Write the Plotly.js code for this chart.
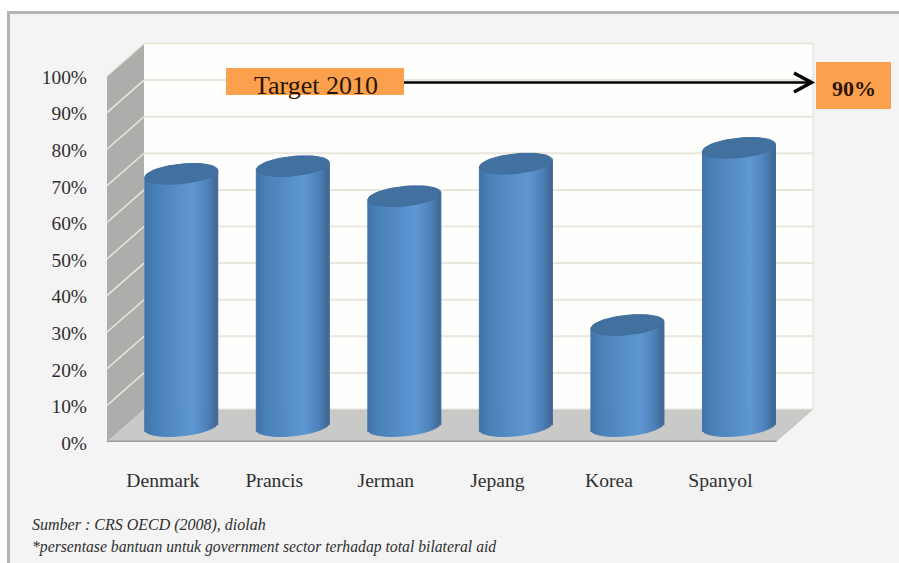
<!DOCTYPE html>
<html>
<head>
<meta charset="utf-8">
<script src="https://cdn.plot.ly/plotly-3.0.1.min.js"></script>
<style>html,body{margin:0;padding:0;background:#fff;overflow:hidden}#chart{width:899px;height:563px}</style>
</head>
<body>
<div id="chart"></div>
<script>
// Share of aid going to the government sector, by donor country (%)
const categories = ['Denmark', 'Prancis', 'Jerman', 'Jepang', 'Korea', 'Spanyol'];
const values = [68.9, 71.0, 62.8, 71.7, 27.6, 76.0];
const yTicks = [0, 10, 20, 30, 40, 50, 60, 70, 80, 90, 100];
const yTickLabels = ['0%', '10%', '20%', '30%', '40%', '50%', '60%', '70%', '80%', '90%', '100%'];
const targetLabel = 'Target 2010';
const targetValue = '90%';
const sourceLines = ['Sumber : CRS OECD (2008), diolah',
  '*persentase bantuan untuk government sector terhadap total bilateral aid'];

// Canvas geometry of the pseudo-3D box
const W = 899, H = 563;
const M = {l: 107, r: 83, t: 40, b: 121};
const PX_X = 111.5, PX_Y = 3.66;               // pixels per category / per percent
const paperX = p => (p - M.l) / (W - M.l - M.r);
const paperY = p => (H - M.b - p) / (H - M.t - M.b);

const wallDX = 37 / PX_X, wallDY = 32.5 / PX_Y; // depth offset of the back wall
const colDX = 18.5 / PX_X, colDY = 16 / PX_Y;   // depth offset of the column axis
const radX = 36.5 / PX_X;                       // column half width
const radY = 9.8 / PX_Y;                        // ellipse half height
const tilt = 3.5 / PX_Y;                        // ellipse slant, rising to the right
const STRIPS = 37;

// Horizontal shading across a column, -1 = left edge, 1 = right edge
const shadeStops = [[-1, [66, 114, 168]], [-0.72, [74, 128, 184]], [0.1, [90, 146, 206]],
  [0.32, [95, 151, 211]], [0.72, [78, 130, 186]], [1, [62, 102, 146]]];
function shade(u) {
  for (let i = 1; i < shadeStops.length; i++) {
    if (u <= shadeStops[i][0]) {
      const [u0, c0] = shadeStops[i - 1], [u1, c1] = shadeStops[i];
      const t = (u - u0) / (u1 - u0);
      return 'rgb(' + c0.map((c, k) => Math.round(c + (c1[k] - c) * t)).join(',') + ')';
    }
  }
  return 'rgb(62,102,146)';
}

const traces = [];
categories.forEach((name, i) => {
  const cx = i + colDX, xs = [], bases = [], heights = [], colors = [];
  for (let s = 0; s < STRIPS; s++) {
    const u = -1 + (2 * s + 1) / STRIPS;
    const sag = radY * Math.sqrt(Math.max(0, 1 - u * u));
    const bottom = colDY - sag + tilt * u;
    const top = colDY + values[i] + tilt * u;
    xs.push(cx + u * radX);
    bases.push(bottom);
    heights.push(top - bottom);
    colors.push(shade(u));
  }
  // each strip is stroked in its own colour so neighbours close up without seams
  traces.push({
    type: 'bar', name: name, x: xs, y: heights, base: bases,
    width: 2 * radX / STRIPS,
    marker: {color: colors, line: {width: 1, color: colors}},
    hoverinfo: 'skip', showlegend: false
  });
  // elliptical cap on top of the column
  const capX = [], capY = [];
  for (let a = 0; a <= 72; a++) {
    const t = a / 72 * 2 * Math.PI;
    capX.push(cx + radX * Math.cos(t));
    capY.push(colDY + values[i] + radY * Math.sin(t) + tilt * Math.cos(t));
  }
  traces.push({
    type: 'scatter', mode: 'lines', x: capX, y: capY, fill: 'toself',
    fillcolor: '#42719f', line: {color: '#3f6d9b', width: 1},
    hoverinfo: 'skip', showlegend: false
  });
});

// Box faces and gridlines, in axis units so they follow the scales
const x0 = -0.5, xEnd = 5.5;
const gridColor = '#e9e7dc';
const shapes = [
  {type: 'rect', xref: 'paper', yref: 'paper', x0: paperX(0), x1: paperX(W), y0: paperY(H), y1: paperY(0),
   fillcolor: '#ffffff', line: {width: 0}, layer: 'below'},
  {type: 'rect', xref: 'paper', yref: 'paper', x0: paperX(8.5), x1: paperX(W + 5), y0: paperY(H + 5), y1: paperY(12.5),
   fillcolor: '#f4f4f4', line: {color: '#b4b4b4', width: 3}, layer: 'below'},
  // back wall
  {type: 'rect', x0: x0 + wallDX, x1: xEnd + wallDX, y0: wallDY, y1: 100 + wallDY,
   fillcolor: '#fefefd', line: {width: 0}, layer: 'below'},
  {type: 'line', x0: xEnd + wallDX, x1: xEnd + wallDX, y0: wallDY, y1: 100 + wallDY,
   line: {color: '#e6e6e2', width: 1.5}, layer: 'below'},
  // side wall
  {type: 'path', path: `M${x0},0 L${x0 + wallDX},${wallDY} L${x0 + wallDX},${100 + wallDY} L${x0},100 Z`,
   fillcolor: '#adadab', line: {width: 0}, layer: 'below'}
];
yTicks.forEach(v => {
  shapes.push({type: 'line', x0: x0 + wallDX, x1: xEnd + wallDX, y0: v + wallDY, y1: v + wallDY,
    line: {color: gridColor, width: 2}, layer: 'below'});
  if (v > 0) shapes.push({type: 'line', x0: x0, x1: x0 + wallDX, y0: v, y1: v + wallDY,
    line: {color: gridColor, width: 1.5}, layer: 'below'});
});
// floor, drawn after the gridlines
shapes.push({type: 'path', path: `M${x0},0 L${x0 + wallDX},${wallDY} L${xEnd + wallDX},${wallDY} L${xEnd},0 Z`,
  fillcolor: '#c9c9c8', line: {width: 0}, layer: 'below'});
shapes.push({type: 'line', x0: x0, x1: xEnd, y0: 0.15, y1: 0.15, line: {color: '#9c9c9c', width: 2}, layer: 'below'});
// target banner and arrow
shapes.push({type: 'line', xref: 'paper', yref: 'paper', x0: paperX(404), x1: paperX(811), y0: paperY(82.5), y1: paperY(82.5),
  line: {color: '#000', width: 2.5}});
shapes.push({type: 'path', xref: 'paper', yref: 'paper',
  path: `M${paperX(794)},${paperY(73)} L${paperX(811.5)},${paperY(82.5)} L${paperX(794)},${paperY(92)}`,
  line: {color: '#000', width: 3.5}});
shapes.push({type: 'rect', xref: 'paper', yref: 'paper', x0: paperX(226), x1: paperX(404), y0: paperY(95), y1: paperY(68),
  fillcolor: '#fba04d', line: {width: 0}});
shapes.push({type: 'rect', xref: 'paper', yref: 'paper', x0: paperX(816), x1: paperX(891), y0: paperY(109), y1: paperY(62),
  fillcolor: '#fba04d', line: {width: 0}});

const serif = '"Liberation Serif", "Times New Roman", serif';
const annotations = [
  {xref: 'paper', yref: 'paper', x: paperX(315.5), y: paperY(85), text: targetLabel, showarrow: false,
   xanchor: 'center', yanchor: 'middle', font: {family: serif, size: 26, color: '#2a1505'}},
  {xref: 'paper', yref: 'paper', x: paperX(854), y: paperY(89), text: '<b>' + targetValue + '</b>', showarrow: false,
   xanchor: 'center', yanchor: 'middle', font: {family: serif, size: 22, color: '#2a1505'}},
  {xref: 'paper', yref: 'paper', x: paperX(30), y: paperY(525), text: '<i>' + sourceLines[0] + '</i>', showarrow: false,
   xanchor: 'left', yanchor: 'middle', font: {family: serif, size: 16, color: '#2f2f2f'}},
  {xref: 'paper', yref: 'paper', x: paperX(30), y: paperY(547), text: '<i>' + sourceLines[1] + '</i>', showarrow: false,
   xanchor: 'left', yanchor: 'middle', font: {family: serif, size: 15.7, color: '#2f2f2f'}}
];

const layout = {
  width: W, height: H, autosize: false,
  margin: M,
  paper_bgcolor: 'rgba(0,0,0,0)', plot_bgcolor: 'rgba(0,0,0,0)',
  barmode: 'overlay', showlegend: false, hovermode: false, dragmode: false,
  xaxis: {
    range: [-0.5, (816 - 163) / PX_X], tickmode: 'array',
    tickvals: categories.map((_, i) => i), ticktext: categories,
    showgrid: false, zeroline: false, showline: false, ticks: '', ticklabelstandoff: 24,
    tickfont: {family: serif, size: 19.6, color: '#2f2f2f'}, fixedrange: true
  },
  yaxis: {
    range: [0, (H - M.b - M.t) / PX_Y], tickmode: 'array',
    tickvals: yTicks, ticktext: yTickLabels,
    showgrid: false, zeroline: false, showline: false, ticks: '', ticklabelstandoff: 19,
    ticklabelshift: 1,
    tickfont: {family: serif, size: 19.4, color: '#2f2f2f'}, fixedrange: true
  },
  shapes: shapes,
  annotations: annotations
};
Plotly.newPlot('chart', traces, layout, {displayModeBar: false});
</script>
</body>
</html>
